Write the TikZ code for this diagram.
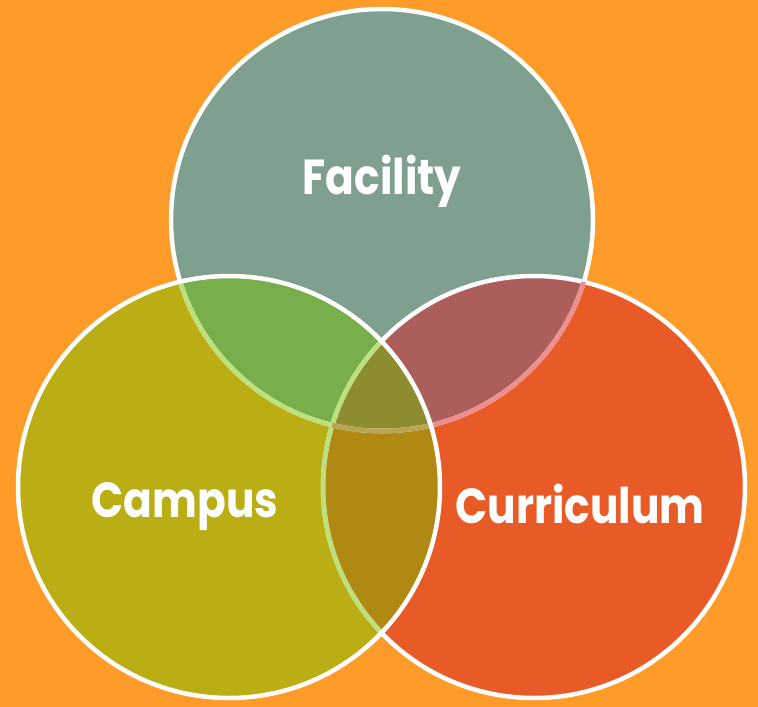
\documentclass[tikz,border=0pt]{standalone}
\usepackage{fontspec}
\setmainfont{Poppins}
\definecolor{bgor}{HTML}{FF9B29}
\definecolor{ctop}{HTML}{7FA08F}
\definecolor{cleft}{HTML}{BAAE14}
\definecolor{cright}{HTML}{E95B26}
\definecolor{ctl}{HTML}{78AF4A}
\definecolor{ctr}{HTML}{AC5E5A}
\definecolor{clr}{HTML}{AF8912}
\definecolor{call}{HTML}{8E8C30}
\definecolor{bgreen}{HTML}{BCE07C}
\definecolor{bpink}{HTML}{EF8E8E}
\definecolor{btan}{HTML}{B9A452}
\begin{document}
\begin{tikzpicture}[x=0.02cm,y=-0.02cm,
  ring/.style={line width=0.09cm},
  lbl/.style={text=white,font=\fontsize{28}{34}\selectfont\bfseries,inner sep=0pt,xscale=0.86}]
\fill[bgor] (0,0) rectangle (758,707);
\useasboundingbox (0,0) rectangle (758,707);
\def\R{211}
\coordinate (T) at (382,220);
\coordinate (L) at (229,487);
\coordinate (Rt) at (534,487);
% base fills
\fill[ctop] (T) circle[radius=\R];
\fill[cleft] (L) circle[radius=\R];
\fill[cright] (Rt) circle[radius=\R];
% pairwise overlaps
\begin{scope}\clip (T) circle[radius=\R]; \fill[ctl] (L) circle[radius=\R]; \end{scope}
\begin{scope}\clip (T) circle[radius=\R]; \fill[ctr] (Rt) circle[radius=\R]; \end{scope}
\begin{scope}\clip (L) circle[radius=\R]; \fill[clr] (Rt) circle[radius=\R]; \end{scope}
\begin{scope}\clip (T) circle[radius=\R]; \clip (L) circle[radius=\R]; \fill[call] (Rt) circle[radius=\R]; \end{scope}
% borders
\draw[ring,white] (T) circle[radius=\R];
\draw[ring,white] (Rt) circle[radius=\R];
\begin{scope}\clip (Rt) circle[radius=\R]; \draw[ring,bpink] (T) circle[radius=\R]; \end{scope}
\begin{scope}\clip (L) circle[radius=\R];
  \draw[ring,bgreen] (T) circle[radius=\R];
  \draw[ring,bgreen] (Rt) circle[radius=\R];
\end{scope}
\begin{scope}\clip (L) circle[radius=\R]; \clip (Rt) circle[radius=\R]; \draw[ring,btan] (T) circle[radius=\R]; \end{scope}
\draw[ring,white] (L) circle[radius=\R];
% labels
\node[lbl] (facility) at (382,181) {Facility};
\node[lbl] (campus) at (185,507) {Campus};
\node[lbl] (curriculum) at (580,504) {Curriculum};
\end{tikzpicture}
\end{document}
